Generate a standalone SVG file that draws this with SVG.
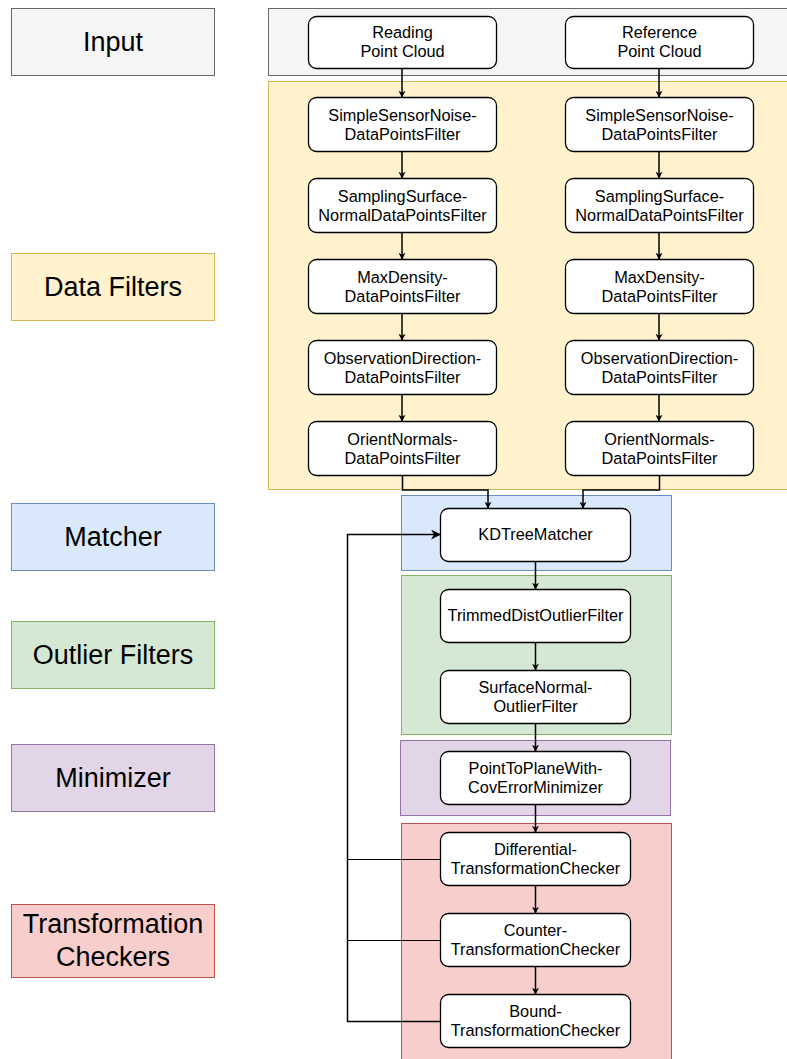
<svg xmlns="http://www.w3.org/2000/svg" width="787" height="1059" viewBox="0 0 787 1059">
<defs>
<marker id="ah" viewBox="0 0 10 10" refX="9" refY="5" markerWidth="7" markerHeight="7" markerUnits="userSpaceOnUse" orient="auto">
<path d="M0,0 L10,5 L0,10 L3,5 Z" fill="#000"/>
</marker>
<marker id="ahb" viewBox="0 0 10 10" refX="9" refY="5" markerWidth="10" markerHeight="10" markerUnits="userSpaceOnUse" orient="auto">
<path d="M0,0 L10,5 L0,10 L3,5 Z" fill="#000"/>
</marker>
</defs>
<style>
text{font-family:"Liberation Sans",Arial,Helvetica,sans-serif;fill:#000;text-anchor:middle}
.lab{font-size:27px}
.nt{font-size:16.3px}
.node{fill:#fff;stroke:#000;stroke-width:1.3}
.conn{fill:none;stroke:#000;stroke-width:1.5}
.thin{fill:none;stroke:#000;stroke-width:1.2}
</style>
<rect width="787" height="1059" fill="#fff"/>
<g id="containers">
<rect x="268.5" y="8.5" width="520" height="67" fill="#f5f5f5" stroke="#666"/>
<rect x="268.5" y="81.5" width="520" height="408" fill="#fff2cc" stroke="#d6b656"/>
<rect x="401.5" y="495.5" width="270" height="75" fill="#dae8fc" stroke="#6c8ebf"/>
<rect x="401.5" y="575.5" width="270" height="159" fill="#d5e8d4" stroke="#82b366"/>
<rect x="400.5" y="740.5" width="270" height="75" fill="#e1d5e7" stroke="#9673a6"/>
<rect x="401.5" y="823.5" width="270" height="240" fill="#f8cecc" stroke="#b85450"/>
</g>
<g id="label-input"><rect x="11.5" y="8.5" width="203" height="67" fill="#f5f5f5" stroke="#666"/><text class="lab" x="113" y="51">Input</text></g>
<g id="label-datafilters"><rect x="11.5" y="253.5" width="203" height="67" fill="#fff2cc" stroke="#d6b656"/><text class="lab" x="113" y="296">Data Filters</text></g>
<g id="label-matcher"><rect x="11.5" y="503.5" width="203" height="67" fill="#dae8fc" stroke="#6c8ebf"/><text class="lab" x="113" y="546">Matcher</text></g>
<g id="label-outlier"><rect x="11.5" y="621.5" width="203" height="67" fill="#d5e8d4" stroke="#82b366"/><text class="lab" x="113" y="664">Outlier Filters</text></g>
<g id="label-minimizer"><rect x="11.5" y="744.5" width="203" height="67" fill="#e1d5e7" stroke="#9673a6"/><text class="lab" x="113" y="787">Minimizer</text></g>
<g id="label-checkers"><rect x="11.5" y="904.5" width="203" height="73" fill="#f8cecc" stroke="#b85450"/><text class="lab" x="113" y="933">Transformation</text><text class="lab" x="113" y="966">Checkers</text></g>
<g id="connectors">
<line class="conn" x1="402" y1="68" x2="402" y2="97" marker-end="url(#ah)"/>
<line class="conn" x1="659" y1="68" x2="659" y2="97" marker-end="url(#ah)"/>
<line class="conn" x1="402" y1="151" x2="402" y2="178" marker-end="url(#ah)"/>
<line class="conn" x1="659" y1="151" x2="659" y2="178" marker-end="url(#ah)"/>
<line class="conn" x1="402" y1="232" x2="402" y2="259" marker-end="url(#ah)"/>
<line class="conn" x1="659" y1="232" x2="659" y2="259" marker-end="url(#ah)"/>
<line class="conn" x1="402" y1="313" x2="402" y2="340" marker-end="url(#ah)"/>
<line class="conn" x1="659" y1="313" x2="659" y2="340" marker-end="url(#ah)"/>
<line class="conn" x1="402" y1="394" x2="402" y2="421" marker-end="url(#ah)"/>
<line class="conn" x1="659" y1="394" x2="659" y2="421" marker-end="url(#ah)"/>
<polyline class="conn" points="402.5,475 402.5,490 488,490 488,508" marker-end="url(#ah)"/>
<polyline class="conn" points="659.5,475 659.5,490 583,490 583,508" marker-end="url(#ah)"/>
<line class="conn" x1="535.5" y1="561" x2="535.5" y2="589" marker-end="url(#ah)"/>
<line class="conn" x1="535.5" y1="642" x2="535.5" y2="670" marker-end="url(#ah)"/>
<line class="conn" x1="535.5" y1="723" x2="535.5" y2="751" marker-end="url(#ah)"/>
<line class="conn" x1="535.5" y1="804" x2="535.5" y2="832" marker-end="url(#ah)"/>
<line class="conn" x1="535.5" y1="885" x2="535.5" y2="913" marker-end="url(#ah)"/>
<line class="conn" x1="535.5" y1="966" x2="535.5" y2="994" marker-end="url(#ah)"/>
<polyline class="conn" points="440,1021.5 347.5,1021.5 347.5,534.5 440,534.5" marker-end="url(#ahb)"/>
<line class="thin" x1="347.5" y1="859.5" x2="440" y2="859.5"/>
<line class="thin" x1="347.5" y1="940.5" x2="440" y2="940.5"/>
</g>
<g id="reading"><rect class="node" x="308.5" y="16.5" width="188" height="52" rx="8"/><text class="nt" x="402.5" y="38">Reading</text><text class="nt" x="402.5" y="57">Point Cloud</text></g>
<g id="reference"><rect class="node" x="565.5" y="16.5" width="188" height="52" rx="8"/><text class="nt" x="659.5" y="38">Reference</text><text class="nt" x="659.5" y="57">Point Cloud</text></g>

<g id="r-ssn"><rect class="node" x="308.5" y="97.5" width="188" height="54" rx="8"/><text class="nt" x="402.5" y="121">SimpleSensorNoise-</text><text class="nt" x="402.5" y="140">DataPointsFilter</text></g>
<g id="r-ss"><rect class="node" x="308.5" y="178.5" width="188" height="54" rx="8"/><text class="nt" x="402.5" y="202">SamplingSurface-</text><text class="nt" x="402.5" y="221">NormalDataPointsFilter</text></g>
<g id="r-md"><rect class="node" x="308.5" y="259.5" width="188" height="54" rx="8"/><text class="nt" x="402.5" y="283">MaxDensity-</text><text class="nt" x="402.5" y="302">DataPointsFilter</text></g>
<g id="r-od"><rect class="node" x="308.5" y="340.5" width="188" height="54" rx="8"/><text class="nt" x="402.5" y="364">ObservationDirection-</text><text class="nt" x="402.5" y="383">DataPointsFilter</text></g>
<g id="r-on"><rect class="node" x="308.5" y="421.5" width="188" height="54" rx="8"/><text class="nt" x="402.5" y="445">OrientNormals-</text><text class="nt" x="402.5" y="464">DataPointsFilter</text></g>

<g id="f-ssn"><rect class="node" x="565.5" y="97.5" width="188" height="54" rx="8"/><text class="nt" x="659.5" y="121">SimpleSensorNoise-</text><text class="nt" x="659.5" y="140">DataPointsFilter</text></g>
<g id="f-ss"><rect class="node" x="565.5" y="178.5" width="188" height="54" rx="8"/><text class="nt" x="659.5" y="202">SamplingSurface-</text><text class="nt" x="659.5" y="221">NormalDataPointsFilter</text></g>
<g id="f-md"><rect class="node" x="565.5" y="259.5" width="188" height="54" rx="8"/><text class="nt" x="659.5" y="283">MaxDensity-</text><text class="nt" x="659.5" y="302">DataPointsFilter</text></g>
<g id="f-od"><rect class="node" x="565.5" y="340.5" width="188" height="54" rx="8"/><text class="nt" x="659.5" y="364">ObservationDirection-</text><text class="nt" x="659.5" y="383">DataPointsFilter</text></g>
<g id="f-on"><rect class="node" x="565.5" y="421.5" width="188" height="54" rx="8"/><text class="nt" x="659.5" y="445">OrientNormals-</text><text class="nt" x="659.5" y="464">DataPointsFilter</text></g>

<g id="kdtree"><rect class="node" x="440.5" y="508.5" width="190" height="53" rx="8"/><text class="nt" x="535.5" y="540">KDTreeMatcher</text></g>
<g id="trimmed"><rect class="node" x="440.5" y="589.5" width="190" height="53" rx="8"/><text class="nt" x="535.5" y="621">TrimmedDistOutlierFilter</text></g>
<g id="surfnorm"><rect class="node" x="440.5" y="670.5" width="190" height="53" rx="8"/><text class="nt" x="535.5" y="693">SurfaceNormal-</text><text class="nt" x="535.5" y="712">OutlierFilter</text></g>
<g id="minimizer"><rect class="node" x="440.5" y="751.5" width="190" height="53" rx="8"/><text class="nt" x="535.5" y="774">PointToPlaneWith-</text><text class="nt" x="535.5" y="793">CovErrorMinimizer</text></g>
<g id="differential"><rect class="node" x="440.5" y="832.5" width="190" height="53" rx="8"/><text class="nt" x="535.5" y="855">Differential-</text><text class="nt" x="535.5" y="874">TransformationChecker</text></g>
<g id="counter"><rect class="node" x="440.5" y="913.5" width="190" height="53" rx="8"/><text class="nt" x="535.5" y="936">Counter-</text><text class="nt" x="535.5" y="955">TransformationChecker</text></g>
<g id="bound"><rect class="node" x="440.5" y="994.5" width="190" height="53" rx="8"/><text class="nt" x="535.5" y="1017">Bound-</text><text class="nt" x="535.5" y="1036">TransformationChecker</text></g>
</svg>
